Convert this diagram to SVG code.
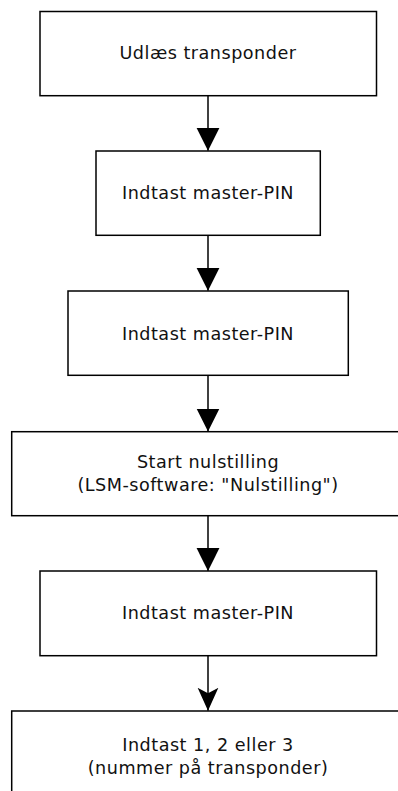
<svg xmlns="http://www.w3.org/2000/svg" width="398" height="791" viewBox="0 0 398 791">
<style>
.box{fill:#fff;stroke:#000;stroke-width:1.5}
.lbl{font-family:"DejaVu Sans",sans-serif;font-size:17.6px;letter-spacing:0.5px;fill:#111;text-anchor:middle}
.con{stroke:#000;stroke-width:1.5;fill:none}
</style>
<defs>
<marker id="tri" markerUnits="userSpaceOnUse" markerWidth="24" markerHeight="24" viewBox="0 0 22 22" refX="21" refY="11" orient="auto">
<path d="M0,0.5 L21,11 L0,21.5 Z" fill="#000"/>
</marker>
<marker id="cls" markerUnits="userSpaceOnUse" markerWidth="24" markerHeight="24" viewBox="0 0 22 22" refX="21" refY="10" orient="auto">
<path d="M0,0.5 L21,10 L0,19.5 L5,10 Z" fill="#000"/>
</marker>
</defs>
<rect width="398" height="791" fill="#fff"/>
<g id="connectors">
<line class="con" x1="208" y1="95.7" x2="208" y2="150.7" marker-end="url(#tri)"/>
<line class="con" x1="208" y1="235.3" x2="208" y2="290.7" marker-end="url(#tri)"/>
<line class="con" x1="208" y1="375.3" x2="208" y2="431.5" marker-end="url(#tri)"/>
<line class="con" x1="208" y1="515.7" x2="208" y2="571" marker-end="url(#tri)"/>
<line class="con" x1="208" y1="655.7" x2="208" y2="710.7" marker-end="url(#cls)"/>
</g>
<g id="n1">
<rect class="box" x="40" y="11.5" width="336.5" height="84.2"/>
<text class="lbl" x="208" y="58.5">Udlæs transponder</text>
</g>
<g id="n2">
<rect class="box" x="96" y="151" width="224.3" height="84.3"/>
<text class="lbl" x="208" y="198.5">Indtast master-PIN</text>
</g>
<g id="n3">
<rect class="box" x="68" y="291" width="280.3" height="84.3"/>
<text class="lbl" x="208" y="339.5">Indtast master-PIN</text>
</g>
<g id="n4">
<rect class="box" x="11.7" y="431.7" width="392.6" height="84"/>
<text class="lbl" x="208" y="468.3">Start nulstilling</text>
<text class="lbl" x="208" y="490.7">(LSM-software: "Nulstilling")</text>
</g>
<g id="n5">
<rect class="box" x="40" y="571" width="336.5" height="84.7"/>
<text class="lbl" x="208" y="619.3">Indtast master-PIN</text>
</g>
<g id="n6">
<rect class="box" x="11.7" y="711" width="392.6" height="84"/>
<text class="lbl" x="208" y="751">Indtast 1, 2 eller 3</text>
<text class="lbl" x="208" y="774">(nummer på transponder)</text>
</g>
</svg>
